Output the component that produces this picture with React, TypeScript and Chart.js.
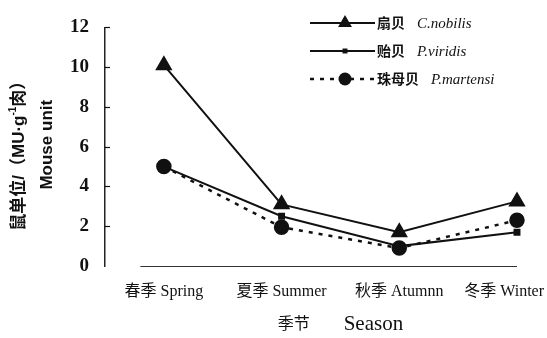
import React, { useEffect, useRef } from 'react';
import { Chart, registerables } from 'chart.js';

Chart.register(...registerables);

// ---- data ----
const seasons = ['春季 Spring', '夏季 Summer', '秋季 Atumnn', '冬季 Winter'];
const cNobilis = [10.1, 3.1, 1.7, 3.25];
const pViridis = [5.0, 2.5, 1.0, 1.7];
const pMartensi = [5.0, 1.95, 0.9, 2.3];
const yTicks = [0, 2, 4, 6, 8, 10, 12];
const legendCn = ['扇贝', '贻贝', '珠母贝'];
const legendLatin = ['C.nobilis', 'P.viridis', 'P.martensi'];
const xTitleCn = '季节';
const xTitleEn = 'Season';
const yTitleParts = ['鼠单位/（MU·g', '-1', '肉）'];
const yTitleEn = 'Mouse unit';

const SERIF = "'Liberation Serif', 'Noto Sans CJK SC', serif";
const CJK = "'Noto Sans CJK SC', sans-serif";

function drawMarker(ctx: CanvasRenderingContext2D, style: string, r: number, x: number, y: number) {
  ctx.beginPath();
  if (style === 'triangle') {
    ctx.moveTo(x, y - r);
    ctx.lineTo(x + r * Math.sin(Math.PI * 2 / 3), y - r * Math.cos(Math.PI * 2 / 3));
    ctx.lineTo(x + r * Math.sin(Math.PI * 4 / 3), y - r * Math.cos(Math.PI * 4 / 3));
    ctx.closePath();
  } else if (style === 'rect') {
    const s = r * Math.SQRT1_2;
    ctx.rect(x - s, y - s, 2 * s, 2 * s);
  } else {
    ctx.arc(x, y, r, 0, Math.PI * 2);
  }
  ctx.fill();
}

const decorPlugin = {
  id: 'decor',
  afterDraw(chart: any) {
    const ctx: CanvasRenderingContext2D = chart.ctx;
    const xs = chart.scales.x;
    const ys = chart.scales.y;
    const area = chart.chartArea;
    ctx.save();
    ctx.fillStyle = '#111';
    ctx.strokeStyle = '#111';

    // inward y tick marks
    ctx.lineWidth = 1.2;
    yTicks.forEach((v) => {
      if (v === 0) return;
      const py = Math.round(ys.getPixelForValue(v)) + 0.5;
      ctx.beginPath();
      ctx.moveTo(area.left, py);
      ctx.lineTo(area.left + 5, py);
      ctx.stroke();
    });

    // x axis baseline
    const by = Math.round(ys.getPixelForValue(0)) + 0.5;
    ctx.lineWidth = 1;
    ctx.strokeStyle = '#333';
    ctx.beginPath();
    ctx.moveTo(xs.getPixelForValue(-0.2), by);
    ctx.lineTo(xs.getPixelForValue(3), by);
    ctx.stroke();

    // x tick labels (clamped within canvas)
    ctx.textBaseline = 'middle';
    ctx.textAlign = 'left';
    ctx.font = `16px ${SERIF}`;
    seasons.forEach((lab, i) => {
      const w = ctx.measureText(lab).width;
      let x0 = xs.getPixelForValue(i) - w / 2;
      if (x0 + w > chart.width - 3) x0 = chart.width - 3 - w;
      ctx.fillText(lab, x0, 292);
    });

    // x title, centred between first and last category
    const cx = (xs.getPixelForValue(0) + xs.getPixelForValue(seasons.length - 1)) / 2;
    const fCn = `16px ${CJK}`;
    const fEn = `21px 'Liberation Serif', serif`;
    ctx.font = fCn;
    const wCn = ctx.measureText(xTitleCn).width;
    ctx.font = fEn;
    const wEn = ctx.measureText(xTitleEn).width;
    const gap = 34;
    const tx = cx - (wCn + gap + wEn) / 2;
    ctx.font = fCn;
    ctx.fillText(xTitleCn, tx, 323);
    ctx.font = fEn;
    ctx.fillText(xTitleEn, tx + wCn + gap, 324);

    // y title (rotated)
    const cy = (area.top + area.bottom) / 2;
    ctx.save();
    ctx.translate(19, cy + 5);
    ctx.rotate(-Math.PI / 2);
    const fMain = `bold 17px 'Liberation Sans', 'Noto Sans CJK SC', sans-serif`;
    const fSup = `bold 10px 'Liberation Sans', sans-serif`;
    ctx.font = fMain;
    const w1 = ctx.measureText(yTitleParts[0]).width;
    const w3 = ctx.measureText(yTitleParts[2]).width;
    ctx.font = fSup;
    const w2 = ctx.measureText(yTitleParts[1]).width;
    let px = -(w1 + w2 + w3) / 2;
    ctx.font = fMain;
    ctx.fillText(yTitleParts[0], px, 0);
    px += w1;
    ctx.font = fSup;
    ctx.fillText(yTitleParts[1], px, -6);
    px += w2;
    ctx.font = fMain;
    ctx.fillText(yTitleParts[2], px, 0);
    ctx.restore();

    ctx.save();
    ctx.translate(47, cy - 2);
    ctx.rotate(-Math.PI / 2);
    ctx.font = `bold 17px 'Liberation Sans', sans-serif`;
    ctx.textAlign = 'center';
    ctx.fillText(yTitleEn, 0, 0);
    ctx.restore();

    // legend
    const rows = [23, 51, 79];
    chart.data.datasets.forEach((ds: any, i: number) => {
      const ry = rows[i];
      ctx.save();
      ctx.strokeStyle = ds.borderColor;
      ctx.lineWidth = ds.borderWidth;
      ctx.setLineDash(ds.borderDash || []);
      ctx.beginPath();
      ctx.moveTo(310, ry);
      ctx.lineTo(375, ry);
      ctx.stroke();
      ctx.restore();
      ctx.fillStyle = ds.pointBackgroundColor;
      drawMarker(ctx, ds.pointStyle, ds.pointRadius, 345, ry);
      ctx.fillStyle = '#111';
      ctx.font = `bold 14px ${CJK}`;
      ctx.textAlign = 'left';
      ctx.fillText(legendCn[i], 377, ry);
      const wc = ctx.measureText(legendCn[i]).width;
      ctx.font = `italic 15px 'Liberation Serif', serif`;
      ctx.fillText(legendLatin[i], 377 + wc + 12, ry + 1);
    });

    ctx.restore();
  },
};

export default function App() {
  const ref = useRef<HTMLCanvasElement | null>(null);
  useEffect(() => {
    if (!ref.current) return;
    const toXY = (arr: number[]) => arr.map((v, i) => ({ x: i, y: v }));
    const chart = new Chart(ref.current, {
      type: 'line',
      data: {
        datasets: [
          {
            label: legendLatin[0],
            data: toXY(cNobilis),
            borderColor: '#111',
            backgroundColor: '#111',
            pointBackgroundColor: '#111',
            pointBorderColor: '#111',
            borderWidth: 2,
            pointStyle: 'triangle',
            pointRadius: 8,
            tension: 0,
          },
          {
            label: legendLatin[1],
            data: toXY(pViridis),
            borderColor: '#111',
            backgroundColor: '#111',
            pointBackgroundColor: '#111',
            pointBorderColor: '#111',
            borderWidth: 2,
            pointStyle: 'rect',
            pointRadius: 3.5,
            tension: 0,
          },
          {
            label: legendLatin[2],
            data: toXY(pMartensi),
            borderColor: '#111',
            backgroundColor: '#111',
            pointBackgroundColor: '#111',
            pointBorderColor: '#111',
            borderWidth: 2.5,
            borderDash: [4, 6],
            pointStyle: 'circle',
            pointRadius: 6.5,
            tension: 0,
          },
        ] as any,
      },
      options: {
        responsive: false,
        maintainAspectRatio: false,
        devicePixelRatio: 1,
        animation: false,
        layout: { padding: { left: 0, right: 2, top: 23, bottom: 0 } },
        plugins: { legend: { display: false }, tooltip: { enabled: false } },
        scales: {
          x: {
            type: 'linear',
            min: -0.5,
            max: 3.17,
            ticks: { display: false },
            grid: { display: false },
            border: { display: false },
            afterFit: (s: any) => { s.height = 72; },
          },
          y: {
            min: 0,
            max: 12,
            afterBuildTicks: (s: any) => { s.ticks = yTicks.map((v) => ({ value: v })); },
            ticks: {
              color: '#111',
              padding: 16,
              font: { family: "'Liberation Serif', serif", size: 19, weight: 'bold' },
            },
            grid: { display: false, drawTicks: false },
            border: { display: true, color: '#222', width: 1.5 },
            afterFit: (s: any) => { s.width = 105; },
          },
        },
      } as any,
      plugins: [decorPlugin],
    });
    return () => chart.destroy();
  }, []);
  return (
    <div style={{ position: 'fixed', left: 0, top: 0, width: 547, height: 338, background: '#fff' }}>
      <canvas ref={ref} width={547} height={338} style={{ display: 'block', width: 547, height: 338 }} />
    </div>
  );
}
